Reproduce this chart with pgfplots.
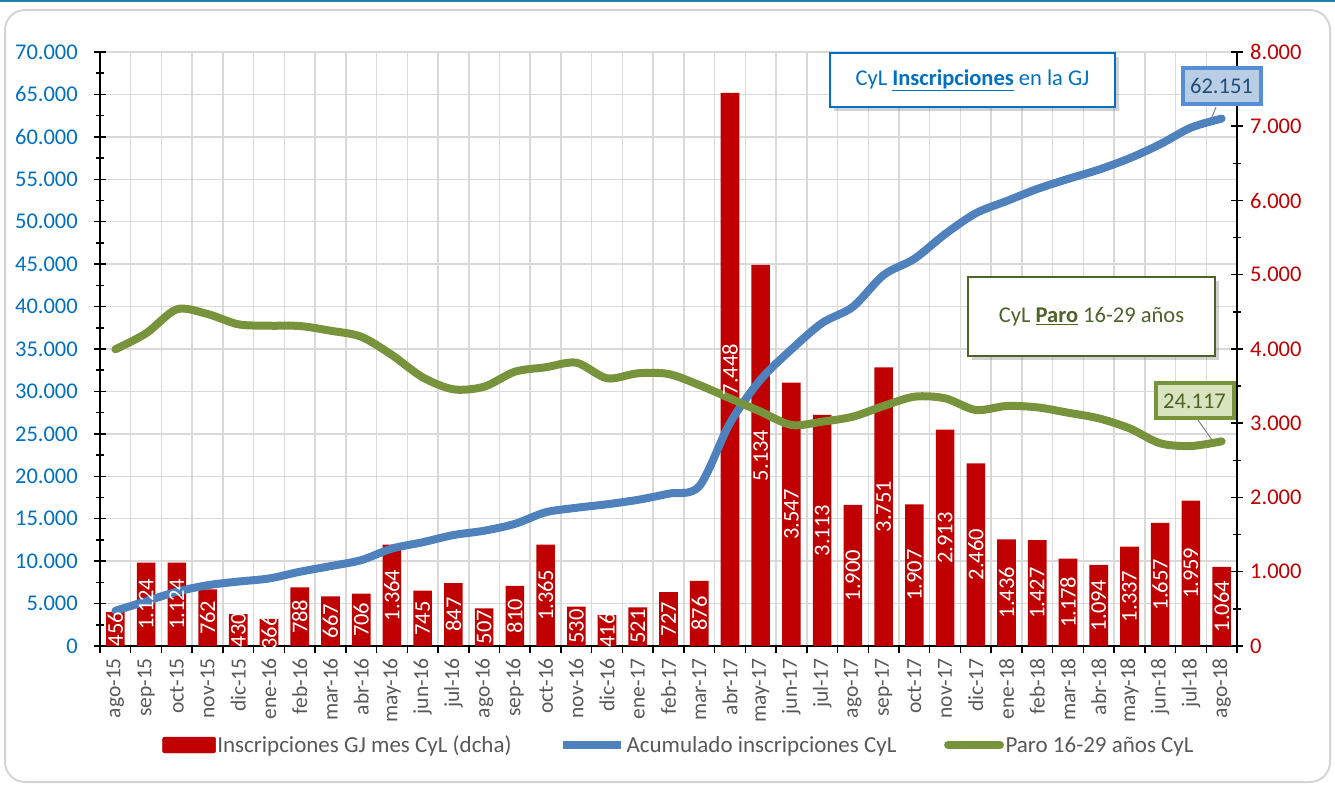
\documentclass[border=0pt]{standalone}
\usepackage{fontspec}
\setmainfont{Carlito}
\usepackage{pgfplots}
\usepackage{pgfplotstable}
\pgfplotsset{compat=1.18}
\usetikzlibrary{shadows}

\definecolor{barred}{HTML}{C00000}
\definecolor{lineblue}{HTML}{4F81BD}
\definecolor{linegreen}{HTML}{77933C}
\definecolor{leftblue}{HTML}{0070C0}
\definecolor{labgray}{HTML}{595959}
\definecolor{gridc}{HTML}{D9D9D9}
\definecolor{olive}{HTML}{4F6228}
\definecolor{topline}{HTML}{2A7AA8}
\definecolor{framec}{HTML}{D4D4D4}
\definecolor{lblfill}{HTML}{B9CDE5}
\definecolor{lbldraw}{HTML}{558ED5}
\definecolor{lbltext}{HTML}{1F4E79}
\definecolor{lgfill}{HTML}{D7E4BD}

\pgfplotstableread{
x bar cum paro
0 456 4151 34963
1 1124 5275 36849
2 1124 6399 39677
3 762 7161 39123
4 430 7591 37909
5 366 7957 37745
6 788 8745 37709
7 667 9412 37156
8 706 10118 36449
9 1364 11482 34292
10 745 12227 31664
11 847 13074 30250
12 507 13581 30556
13 810 14391 32324
14 1365 15756 32842
15 530 16286 33385
16 416 16702 31546
17 521 17223 32135
18 727 17950 32053
19 876 18826 30756
20 7448 26274 29189
21 5134 31408 27614
22 3547 34955 26043
23 3113 38068 26435
24 1900 39968 27024
25 3751 43719 28282
26 1907 45626 29378
27 2913 48539 29189
28 2460 50999 27811
29 1436 52435 28282
30 1427 53862 28125
31 1178 55040 27493
32 1094 56134 26828
33 1337 57471 25654
34 1657 59128 23886
35 1959 61087 23568
36 1064 62151 24117
}\data

\pgfplotsset{
  base/.style={
    scale only axis, width=1137pt, height=594pt,
    at={(100pt,138pt)}, anchor=south west,
    xmin=-0.5, xmax=36.5,
    font=\fontsize{22.5}{27}\selectfont,
    /pgf/number format/assume math mode=true,
    /pgf/number format/1000 sep={.},
    /pgf/number format/fixed,
    /pgf/number format/precision=0,
    scaled y ticks=false,
  }
}

\begin{document}
\begin{tikzpicture}[x=1pt,y=1pt]
\useasboundingbox (0,0) rectangle (1335,784);
\fill[white] (0,0) rectangle (1335,784);
\fill[topline] (0,781.5) rectangle (1335,784);
\draw[framec, line width=2pt, rounded corners=20pt] (5,2) rectangle (1330,774);

% Axis 1: grid, left axis, x axis
\begin{axis}[base,
  ymin=0, ymax=70000,
  axis x line*=bottom, axis y line*=left,
  axis line style={black, line width=2pt},
  ytick={0,5000,...,70000},
  minor ytick={2500,7500,...,67500},
  ymajorgrids,
  major grid style={gridc, line width=1.5pt},
  minor grid style={gridc, line width=1.5pt},
  xtick={0,...,36},
  xticklabels={ago-15,sep-15,oct-15,nov-15,dic-15,ene-16,feb-16,mar-16,abr-16,may-16,jun-16,jul-16,ago-16,sep-16,oct-16,nov-16,dic-16,ene-17,feb-17,mar-17,abr-17,may-17,jun-17,jul-17,ago-17,sep-17,oct-17,nov-17,dic-17,ene-18,feb-18,mar-18,abr-18,may-18,jun-18,jul-18,ago-18},
  minor xtick={-0.5,0.5,...,36.5},
  xminorgrids,
  major x tick style={draw=none},
  minor x tick style={black, line width=1.5pt, yshift=-3.5pt},
  tick align=center,
  major tick length=12pt, minor tick length=8pt,
  y tick style={black, line width=1.5pt},
  minor y tick style={black, line width=1.5pt},
  xticklabel shift=6pt,
  x tick label style={rotate=90, anchor=east, inner sep=0pt, labgray, font=\fontsize{21.5}{25}\selectfont},
  y tick label style={leftblue, inner sep=0pt, xshift=-16pt},
]
\addplot[draw=none] coordinates {(0,0)};
\end{axis}

% Axis 2: bars on right axis
\begin{axis}[base,
  ymin=0, ymax=8000,
  axis x line=none, axis y line*=right,
  axis line style={black, line width=2pt},
  ytick={0,1000,...,8000},
  minor ytick={500,1500,...,7500},
  tick align=center,
  major tick length=12pt, minor tick length=8pt,
  y tick style={black, line width=1.5pt},
  minor y tick style={black, line width=1.5pt},
  y tick label style={barred, inner sep=0pt, xshift=7pt},
  ybar, bar width=18.6pt, bar shift=0pt,
]
\addplot[fill=barred, draw=none] table[x=x, y=bar]{\data};
\end{axis}

% Axis 3: lines on left scale
\begin{axis}[base, ymin=0, ymax=70000, hide axis]
\addplot[lineblue, line width=8pt, smooth, tension=0.5, line cap=round, line join=round] table[x=x, y=cum]{\data};
\addplot[linegreen, line width=8pt, smooth, tension=0.5, line cap=round, line join=round] table[x=x, y=paro]{\data};
\end{axis}

% Axis 4: bar labels and legend
\begin{axis}[base, ymin=0, ymax=8000, hide axis,
  legend columns=3,
  legend style={at={(0.509,-0.1667)}, anchor=center, draw=none, fill=none,
    font=\fontsize{23}{27}\selectfont, text=labgray,
    nodes={inner sep=1.5pt},
    /tikz/every even column/.append style={column sep=46pt}},
]
\addplot[draw=none, mark=none, point meta=explicit,
  nodes near coords={\pgfmathprintnumber{\pgfplotspointmeta}},
  every node near coord/.append style={anchor=center, rotate=90, white, inner sep=0pt, font=\fontsize{22.5}{27}\selectfont},
  forget plot]
  table[x=x, y expr=\thisrow{bar}/2, meta=bar]{\data};
\addlegendimage{legend image code/.code={\fill[barred, rounded corners=2pt] (0pt,-8pt) rectangle (53pt,8pt);}}
\addlegendentry{Inscripciones GJ mes CyL (dcha)}
\addlegendimage{legend image code/.code={\draw[lineblue, line width=8pt] (0pt,0pt) -- (58pt,0pt);}}
\addlegendentry{Acumulado inscripciones CyL}
\addlegendimage{legend image code/.code={\draw[linegreen, line width=8pt, line cap=round] (4pt,0pt) -- (56pt,0pt);}}
\addlegendentry{Paro 16-29 años CyL}
\end{axis}

% annotation boxes
\node[draw=leftblue, line width=2pt, fill=white, minimum width=285pt, minimum height=54pt,
  drop shadow={opacity=0.35, shadow xshift=4pt, shadow yshift=-4pt},
  font=\fontsize{22.5}{27}\selectfont, text=leftblue]
  at (972.5,704) {CyL \underline{\textbf{Inscripciones}} en la GJ};
\node[draw=olive, line width=2pt, fill=white, minimum width=247pt, minimum height=79pt,
  drop shadow={opacity=0.35, shadow xshift=4pt, shadow yshift=-4pt},
  font=\fontsize{22.5}{27}\selectfont, text=olive]
  at (1091.5,467.5) {CyL \underline{\textbf{Paro}} 16-29 años};

% value labels
\draw[gray, line width=1pt] (1216,677) -- (1212,667);
\node[draw=lbldraw, line width=4pt, fill=lblfill, minimum width=78pt, minimum height=36pt,
  inner sep=0pt, font=\fontsize{22.5}{27}\selectfont, text=lbltext]
  at (1221.5,697.5) {62.151};
\draw[gray, line width=1pt] (1198,364) -- (1212,344);
\node[draw=linegreen, line width=4pt, fill=lgfill, minimum width=78pt, minimum height=35pt,
  inner sep=0pt, font=\fontsize{22.5}{27}\selectfont, text=olive]
  at (1194.5,383) {24.117};
\end{tikzpicture}
\end{document}
